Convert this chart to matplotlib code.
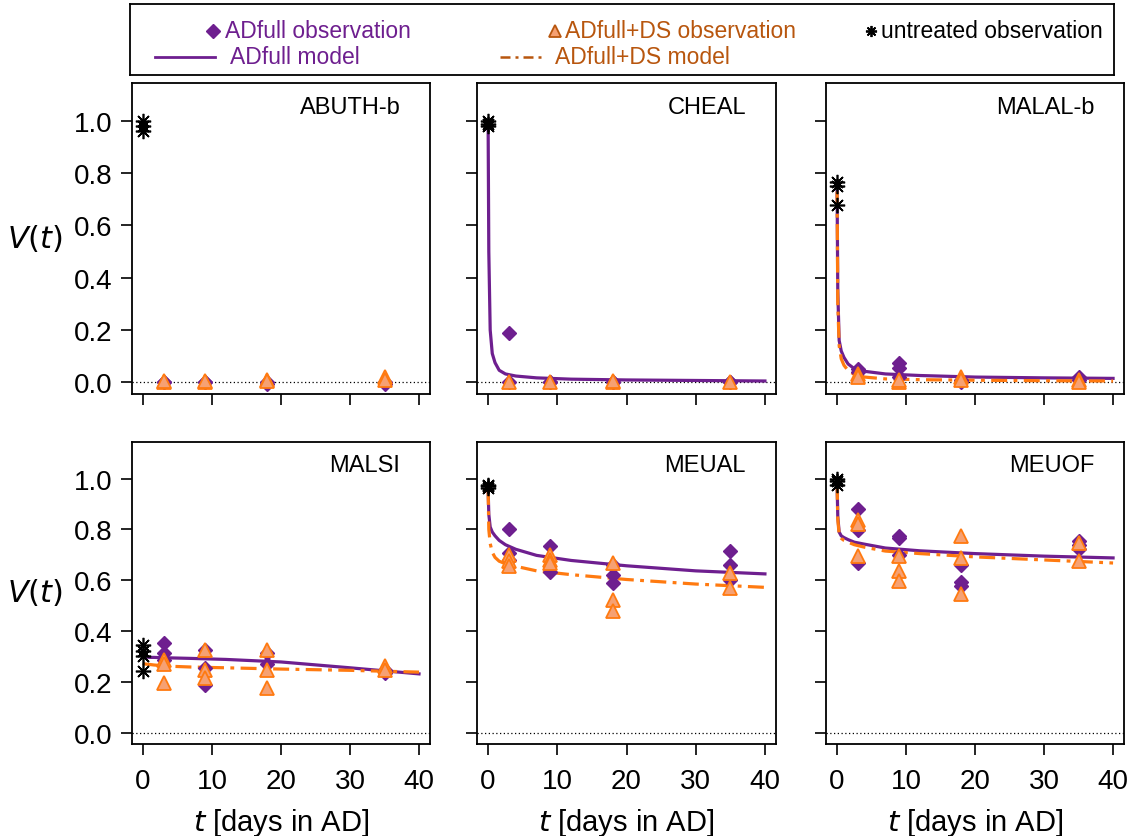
import matplotlib
matplotlib.use('Agg')
import matplotlib.pyplot as plt
from matplotlib.lines import Line2D

plt.rcParams['font.family'] = ['Liberation Sans', 'DejaVu Sans']
plt.rcParams['mathtext.fontset'] = 'dejavusans'

PURPLE = '#6e1f8f'
ORANGE = '#ff7a10'
TRI_FILL = '#f6a173'
ORANGE_TXT = '#b8560e'

days = [3, 9, 18, 35]

panels = ['ABUTH-b', 'CHEAL', 'MALAL-b', 'MALSI', 'MEUAL', 'MEUOF']

# untreated observations at t = 0
untreated = {
    'ABUTH-b': [1.0, 0.98, 0.96],
    'CHEAL': [1.0, 0.99, 0.98],
    'MALAL-b': [0.767, 0.75, 0.678],
    'MALSI': [0.346, 0.32, 0.30, 0.241],
    'MEUAL': [0.976, 0.97, 0.963],
    'MEUOF': [1.0, 0.99, 0.976],
}

# ADfull observations, one list per day in `days`
adfull_obs = {
    'ABUTH-b': [[0.0, 0.0], [0.0, 0.0], [0.0, -0.005], [0.0, -0.008]],
    'CHEAL': [[0.187, 0.0], [0.0, 0.0], [0.0, 0.0], [0.0, 0.0]],
    'MALAL-b': [[0.05, 0.04], [0.074, 0.056, 0.02], [0.0, 0.01], [0.01, 0.02]],
    'MALSI': [[0.353, 0.314, 0.287], [0.327, 0.255, 0.189], [0.314, 0.268], [0.235, 0.248]],
    'MEUAL': [[0.80, 0.707, 0.681], [0.733, 0.631], [0.661, 0.622, 0.589], [0.714, 0.661, 0.602]],
    'MEUOF': [[0.882, 0.799, 0.668], [0.773, 0.766, 0.70], [0.661, 0.592, 0.576], [0.756, 0.74, 0.723]],
}

# ADfull+DS observations
ds_obs = {
    'ABUTH-b': [[0.0, 0.005], [0.0, 0.005], [0.01, 0.005], [0.02, 0.01]],
    'CHEAL': [[0.0], [0.0], [0.0, 0.005], [0.0]],
    'MALAL-b': [[0.03, 0.02], [0.0, 0.01], [0.02, 0.01], [0.01, 0.0]],
    'MALSI': [[0.287, 0.268, 0.196], [0.327, 0.248, 0.215], [0.327, 0.248, 0.176], [0.262, 0.248]],
    'MEUAL': [[0.70, 0.674, 0.655], [0.70, 0.681, 0.668], [0.668, 0.524, 0.478], [0.629, 0.57]],
    'MEUOF': [[0.839, 0.82, 0.694], [0.694, 0.635, 0.596], [0.776, 0.688, 0.547], [0.745, 0.674]],
}

# model curves
model_t = [0, 0.1, 0.3, 0.6, 1, 1.6, 2.5, 4, 7, 12, 20, 30, 40]
adfull_model = {
    'CHEAL': [0.99, 0.5, 0.2, 0.11, 0.075, 0.046, 0.032, 0.024, 0.017, 0.012, 0.009, 0.007, 0.005],
    'MALAL-b': [0.73, 0.35, 0.16, 0.12, 0.095, 0.07, 0.052, 0.042, 0.032, 0.026, 0.02, 0.017, 0.015],
    'MALSI': [0.297, 0.297, 0.297, 0.297, 0.296, 0.296, 0.295, 0.294, 0.292, 0.288, 0.278, 0.255, 0.231],
    'MEUAL': [0.96, 0.86, 0.81, 0.79, 0.775, 0.757, 0.74, 0.722, 0.698, 0.678, 0.657, 0.637, 0.625],
    'MEUOF': [0.98, 0.85, 0.79, 0.775, 0.768, 0.76, 0.75, 0.742, 0.727, 0.716, 0.705, 0.695, 0.688],
}
ds_model = {
    'MALAL-b': [0.73, 0.3, 0.14, 0.09, 0.065, 0.045, 0.03, 0.02, 0.013, 0.01, 0.008, 0.006, 0.005],
    'MALSI': [0.272, 0.271, 0.27, 0.269, 0.268, 0.266, 0.264, 0.261, 0.258, 0.255, 0.25, 0.245, 0.238],
    'MEUAL': [0.96, 0.80, 0.745, 0.71, 0.69, 0.675, 0.665, 0.655, 0.637, 0.622, 0.603, 0.585, 0.572],
    'MEUOF': [0.98, 0.84, 0.78, 0.765, 0.757, 0.75, 0.74, 0.73, 0.715, 0.705, 0.692, 0.68, 0.668],
}

fig = plt.figure(figsize=(11.35, 8.37), dpi=100)

lefts = [0.1163, 0.4203, 0.7278]
bottoms = [0.528, 0.110]
widths = [0.2626, 0.2634, 0.2626]
heights = [0.3716, 0.3608]

for i, name in enumerate(panels):
    r, c = divmod(i, 3)
    ax = fig.add_axes([lefts[c], bottoms[r], widths[c], heights[r]])
    ax.set_xlim(-1.6, 41.6)
    ax.set_ylim(-0.045, 1.145)
    ax.axhline(0, color='black', lw=0.9, ls=(0, (1, 2)), zorder=1)

    if name in adfull_model:
        ax.plot(model_t, adfull_model[name], color=PURPLE, lw=2.3, zorder=3)
    if name in ds_model:
        ax.plot(model_t, ds_model[name], color=ORANGE, lw=2.3,
                ls=(0, (5, 2, 1.2, 2)), zorder=4)

    for d, vals in zip(days, adfull_obs[name]):
        ax.plot([d] * len(vals), vals, ls='none', marker='D', ms=7.5,
                mfc=PURPLE, mec=PURPLE, zorder=5)
    for d, vals in zip(days, ds_obs[name]):
        ax.plot([d] * len(vals), vals, ls='none', marker='^', ms=10.5,
                mfc=TRI_FILL, mec=ORANGE, mew=1.3, zorder=6)
    u = untreated[name]
    ax.plot([0] * len(u), u, ls='none', marker=(8, 2, 0), ms=11,
            mec='black', mew=1.2, zorder=7)

    ax.text(0.9, 0.923, name, transform=ax.transAxes, ha='right', va='center',
            fontsize=17)

    ax.set_xticks([0, 10, 20, 30, 40])
    ax.set_yticks([0, 0.2, 0.4, 0.6, 0.8, 1.0])
    ax.tick_params(direction='out', length=8, width=1.2, labelsize=20, pad=6)
    for s in ax.spines.values():
        s.set_linewidth(1.3)
    if c == 0:
        ax.set_yticklabels(['0.0', '0.2', '0.4', '0.6', '0.8', '1.0'])
        ax.text(-0.325, 0.5, '$V(t)$', transform=ax.transAxes, fontsize=22,
                ha='center', va='center')
    else:
        ax.set_yticklabels([])
    if r == 1:
        ax.tick_params(axis='x', pad=9)
        ax.set_xlabel('$t$ [days in AD]', fontsize=21, labelpad=9)
    else:
        ax.set_xticklabels([])

# legend box
lax = fig.add_axes([130 / 1135, 1 - 76 / 837, (1114 - 130) / 1135, 71 / 837])
lax.set_xlim(130, 1114)
lax.set_ylim(76, 5)
lax.set_xticks([])
lax.set_yticks([])
for s in lax.spines.values():
    s.set_linewidth(1.3)
fs = 16.5
lax.plot([213], [32], marker='D', ms=7, color=PURPLE, ls='none')
lax.text(225, 32, 'ADfull observation', color=PURPLE, fontsize=fs, va='center')
lax.add_line(Line2D([155, 215], [58, 58], color=PURPLE, lw=2))
lax.text(230, 58, 'ADfull model', color=PURPLE, fontsize=fs, va='center')
lax.plot([555], [32], marker='^', ms=8, mfc=TRI_FILL, mec=ORANGE_TXT, mew=1.3, ls='none')
lax.text(565, 32, 'ADfull+DS observation', color=ORANGE_TXT, fontsize=fs, va='center')
lax.add_line(Line2D([500, 545], [58, 58], color=ORANGE_TXT, lw=1.8, ls=(0, (4, 2, 1.2, 2))))
lax.text(555, 58, 'ADfull+DS model', color=ORANGE_TXT, fontsize=fs, va='center')
lax.plot([871], [32], marker=(8, 2, 0), ms=8, mec='black', mew=1.3, ls='none')
lax.text(881, 32, 'untreated observation', color='black', fontsize=fs, va='center')

fig.savefig('out.png', dpi=100)
